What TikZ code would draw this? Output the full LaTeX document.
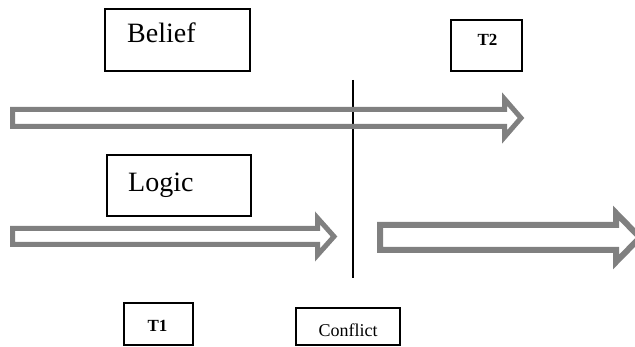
\documentclass[tikz,border=0pt]{standalone}
\usepackage{fontspec}
\setmainfont{Liberation Serif}
\definecolor{arrowgray}{HTML}{808080}
\tikzset{
  box/.style={draw=black, line width=1.3pt, inner sep=0pt, fill=white},
  blockarrow/.style={draw=arrowgray, line width=5pt, miter limit=10, line join=miter},
  divider/.style={draw=black, line width=1.2pt},
  bigtext/.style={font=\fontsize{28}{30}\selectfont, inner sep=0pt, anchor=base west},
  tagtext/.style={font=\fontsize{17}{19}\selectfont\bfseries, inner sep=0pt, anchor=base},
  smalltext/.style={font=\fontsize{18}{20}\selectfont, inner sep=0pt, anchor=base},
}
\begin{document}
\begin{tikzpicture}[x=1pt, y=-1pt]
  \useasboundingbox (0,0) rectangle (635,347);

  % labelled boxes
  \node[box, minimum width=145pt, minimum height=62pt] (belief) at (177.5,40) {};
  \node[bigtext] (beliefText) at (127,43) {Belief};

  \node[box, minimum width=71pt, minimum height=51pt] (t2) at (486.5,45.5) {};
  \node[tagtext] (t2Text) at (487.5,46) {T2};

  \node[box, minimum width=144pt, minimum height=61pt] (logic) at (179,185.5) {};
  \node[bigtext] (logicText) at (128,192) {Logic};

  \node[box, minimum width=69pt, minimum height=42pt] (t1) at (158.5,324) {};
  \node[tagtext] (t1Text) at (157.5,332) {T1};

  \node[box, minimum width=104pt, minimum height=37pt] (conflict) at (348,326.5) {};
  \node[smalltext] (conflictText) at (348,337) {Conflict};

  % conflict divider
  \coordinate (divTop) at (353,80);
  \coordinate (divBot) at (353,278);
  \draw[divider] (divTop) -- (divBot);

  % belief flow: one long hollow arrow
  \draw[blockarrow] (12.5,109.5) -- (504.5,109.5) -- (504.5,99) -- (521,118)
    -- (504.5,137) -- (504.5,126.5) -- (12.5,126.5) -- cycle;

  % logic flow before the conflict
  \draw[blockarrow] (12.5,228.5) -- (317.5,228.5) -- (317.5,218) -- (334,236.5)
    -- (317.5,255) -- (317.5,244.5) -- (12.5,244.5) -- cycle;

  % logic flow after the conflict
  \begin{scope}
    \clip (0,0) rectangle (635,347);
    \draw[blockarrow, line width=6pt] (380,225) -- (616,225) -- (616,213) -- (640,237.5)
      -- (616,262) -- (616,250) -- (380,250) -- cycle;
  \end{scope}
\end{tikzpicture}
\end{document}
